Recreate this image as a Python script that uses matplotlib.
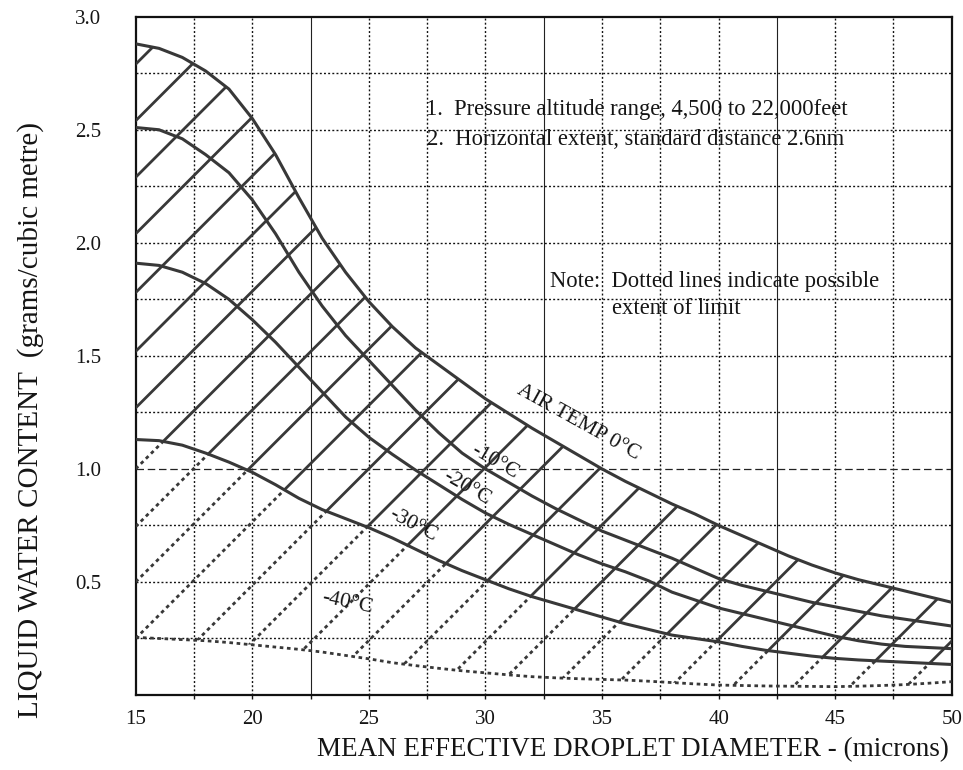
import matplotlib
matplotlib.use("Agg")
import matplotlib.pyplot as plt
from matplotlib.patches import Polygon
import numpy as np

# Mean effective droplet diameter (microns)
diam = [15, 16, 17, 18, 19, 20, 21, 22, 23, 24, 25, 26, 27, 28, 29, 30, 31, 32,
        33, 34, 35, 36, 37, 38, 39, 40, 41, 42, 43, 44, 45, 46, 47, 48, 49, 50]

# Liquid water content limit (g/m^3) for each air temperature
lwc_0 = [2.88, 2.86, 2.82, 2.76, 2.68, 2.55, 2.39, 2.20, 2.02, 1.87, 1.74, 1.63,
         1.535, 1.46, 1.385, 1.31, 1.245, 1.18, 1.12, 1.06, 1.00, 0.945, 0.895,
         0.845, 0.80, 0.75, 0.705, 0.66, 0.615, 0.575, 0.54, 0.51, 0.485, 0.46,
         0.435, 0.41]
lwc_m10 = [2.51, 2.50, 2.46, 2.39, 2.31, 2.19, 2.04, 1.87, 1.72, 1.59, 1.48, 1.37,
           1.26, 1.16, 1.07, 1.00, 0.94, 0.88, 0.825, 0.775, 0.725, 0.685, 0.645,
           0.605, 0.56, 0.515, 0.485, 0.46, 0.435, 0.41, 0.39, 0.37, 0.35, 0.335,
           0.32, 0.305]
lwc_m20 = [1.91, 1.90, 1.87, 1.82, 1.75, 1.66, 1.56, 1.45, 1.34, 1.23, 1.14, 1.065,
           0.995, 0.93, 0.865, 0.805, 0.755, 0.71, 0.665, 0.62, 0.58, 0.545, 0.505,
           0.455, 0.42, 0.385, 0.36, 0.335, 0.31, 0.285, 0.26, 0.24, 0.225, 0.215,
           0.21, 0.205]
lwc_m30 = [1.13, 1.125, 1.105, 1.07, 1.03, 0.985, 0.93, 0.87, 0.82, 0.78, 0.74,
           0.695, 0.645, 0.595, 0.55, 0.51, 0.47, 0.435, 0.405, 0.375, 0.345, 0.315,
           0.29, 0.265, 0.25, 0.235, 0.215, 0.198, 0.185, 0.172, 0.162, 0.155, 0.15,
           0.145, 0.14, 0.135]
lwc_m40 = [0.255, 0.25, 0.245, 0.24, 0.232, 0.222, 0.212, 0.202, 0.19, 0.175, 0.16,
           0.143, 0.13, 0.118, 0.107, 0.098, 0.089, 0.081, 0.076, 0.072, 0.069,
           0.066, 0.061, 0.055, 0.049, 0.044, 0.042, 0.04, 0.039, 0.038, 0.037,
           0.039, 0.042, 0.046, 0.052, 0.059]

# Cross-hatching: parallel lines given by their value at 15 microns
hatch_c = [2.79, 2.54, 2.29, 2.04, 1.78, 1.52, 1.27, 1.00, 0.745, 0.50, 0.25, -0.03,
           -0.28, -0.54, -0.79, -1.05, -1.31, -1.56, -1.815, -2.08, -2.33, -2.60,
           -2.87, -3.12, -3.37, -3.62]
hatch_slope = 0.1031

x_ticks = [15, 20, 25, 30, 35, 40, 45, 50]
y_ticks = [0.5, 1.0, 1.5, 2.0, 2.5, 3.0]
grid_x = [17.5, 20, 22.5, 25, 27.5, 30, 32.5, 35, 37.5, 40, 42.5, 45, 47.5]
grid_x_solid = [22.5, 32.5, 42.5]
grid_y = [0.25, 0.5, 0.75, 1.0, 1.25, 1.5, 1.75, 2.0, 2.25, 2.5, 2.75]
grid_y_dashed = [1.0]

INK = "#383838"
TXT = "#151515"
SERIF = "Liberation Serif"

fig = plt.figure(figsize=(9.63, 7.70), dpi=100)
ax = fig.add_axes([0.1409, 0.0974, 0.8474, 0.8809])
ax.set_xlim(15, 50)
ax.set_ylim(0, 3.0)

# background grid
for gx in grid_x:
    if gx in grid_x_solid:
        ax.axvline(gx, color="#222222", lw=0.8, zorder=1)
    else:
        ax.axvline(gx, color="#111111", lw=1.0, ls=(0, (1.4, 1.6)), zorder=1)
for gy in grid_y:
    if gy in grid_y_dashed:
        ax.axhline(gy, color="#222222", lw=0.9, ls=(0, (6, 3)), zorder=1)
    else:
        ax.axhline(gy, color="#111111", lw=1.0, ls=(0, (1.4, 1.6)), zorder=1)

# regions used to clip the hatching
upper = Polygon(np.column_stack([diam + diam[::-1], lwc_0 + lwc_m30[::-1]]),
                closed=True, transform=ax.transData, fc="none", ec="none")
lower = Polygon(np.column_stack([diam + diam[::-1], lwc_m30 + lwc_m40[::-1]]),
                closed=True, transform=ax.transData, fc="none", ec="none")
ax.add_patch(upper)
ax.add_patch(lower)

hx = np.array([15.0, 50.0])
for c in hatch_c:
    hy = c + hatch_slope * (hx - 15.0)
    solid, = ax.plot(hx, hy, color=INK, lw=2.0, zorder=3)
    solid.set_clip_path(upper)
    dotted, = ax.plot(hx, hy, color=INK, lw=2.0, ls=(0, (1.3, 1.3)), zorder=3)
    dotted.set_clip_path(lower)

# temperature limit curves
for cy in [lwc_0, lwc_m10, lwc_m20, lwc_m30]:
    ax.plot(diam, cy, color=INK, lw=2.2, solid_capstyle="round",
            solid_joinstyle="round", zorder=4)
ax.plot(diam, lwc_m40, color=INK, lw=2.0, ls=(0, (1.3, 1.3)), zorder=4)

# curve labels
lab = dict(family=SERIF, fontsize=15.5, color=TXT, ha="center", va="center", zorder=5)
ax.text(33.98, 1.204, "AIR TEMP 0°C", rotation=-29, **lab)
ax.text(30.42, 1.031, "-10°C", rotation=-30, **lab)
ax.text(29.21, 0.916, "-20°C", rotation=-30, **lab)
ax.text(26.9, 0.752, "-30°C", rotation=-28, **lab)
ax.text(24.1, 0.407, "-40°C", rotation=-12, **lab)

note = dict(family=SERIF, fontsize=16.3, color=TXT, ha="left", va="center", zorder=5)
ax.text(27.44, 2.588, "1.  Pressure altitude range, 4,500 to 22,000feet", **note)
ax.text(27.48, 2.456, "2.  Horizontal extent, standard distance 2.6nm", **note)
ax.text(32.77, 1.829, "Note:  Dotted lines indicate possible", **note)
ax.text(35.42, 1.711, "extent of limit", **note)

# axes frame, ticks and labels
for s in ax.spines.values():
    s.set_color("#111111")
    s.set_linewidth(1.6)
ax.set_xticks(x_ticks)
ax.set_xticklabels([str(v) for v in x_ticks])
ax.set_xticks(grid_x, minor=True)
ax.xaxis.remove_overlapping_locs = False
ax.set_yticks(y_ticks)
ax.set_yticklabels([f"{v:.1f}" for v in y_ticks])
ax.tick_params(axis="both", which="major", length=0, labelsize=15, colors=TXT)
ax.tick_params(axis="x", which="minor", length=3, width=1.0, direction="out", colors=TXT)
ax.tick_params(axis="x", which="major", pad=11)
ax.tick_params(axis="y", pad=25)
for t in ax.get_xticklabels() + ax.get_yticklabels():
    t.set_family(SERIF)

ax.text(0.609, -0.081, "MEAN EFFECTIVE DROPLET DIAMETER - (microns)", transform=ax.transAxes,
        family=SERIF, fontsize=19.5, color=TXT, ha="center", va="center")
ax.text(-0.1285, 0.405, "LIQUID WATER CONTENT  (grams/cubic metre)", transform=ax.transAxes,
        family=SERIF, fontsize=21, color=TXT, ha="center", va="center", rotation=90)

fig.savefig("out.png", dpi=100, facecolor="white")
